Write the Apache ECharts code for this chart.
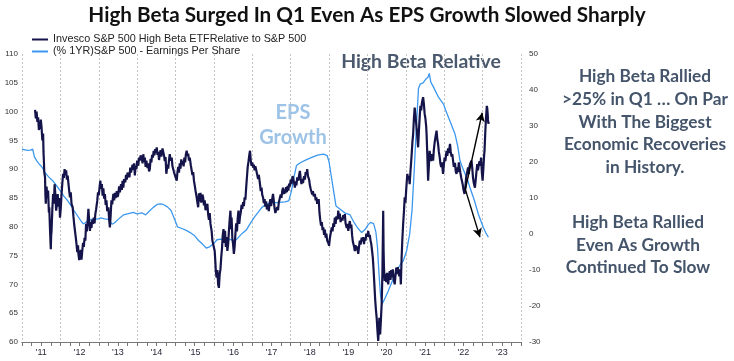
<!DOCTYPE html>
<html><head><meta charset="utf-8">
<script src="https://cdn.jsdelivr.net/npm/echarts@6/dist/echarts.min.js"></script>
<style>html,body{margin:0;padding:0;background:#fff}#c{width:734px;height:361px}</style>
</head><body><div id="c"></div>
<script>
const yearLabels = ["'11","'12","'13","'14","'15","'16","'17","'18","'19","'20","'21","'22","'23"];
const leftTicks = {min:60, max:110, interval:5};
const rightTicks = {min:-30, max:50, interval:10};
// [decimal year, value]
const highBetaRel = [
[2011.34,100.3],[2011.36,98.8],[2011.38,100.0],[2011.40,98.2],[2011.42,99.0],[2011.44,96.8],[2011.46,98.0],[2011.47,97.0],[2011.49,98.6],[2011.51,97.2],[2011.53,95.0],[2011.55,96.2],[2011.56,93.0],[2011.57,91.5],[2011.58,89.5],[2011.60,88.6],[2011.61,85.5],[2011.62,84.0],[2011.64,87.0],[2011.66,85.0],[2011.68,86.3],[2011.70,82.5],[2011.71,83.4],[2011.73,79.5],[2011.75,76.1],[2011.76,78.5],[2011.77,79.3],[2011.79,83.0],[2011.81,85.7],[2011.83,84.0],[2011.85,87.4],[2011.87,85.5],[2011.89,82.8],[2011.91,84.0],[2011.93,85.7],[2011.95,83.5],[2011.97,85.0],[2011.99,81.6],
[2012.01,83.2],[2012.03,85.7],[2012.05,87.5],[2012.07,89.2],[2012.09,88.5],[2012.11,90.0],[2012.13,89.0],[2012.15,89.8],[2012.17,88.2],[2012.19,88.9],[2012.21,87.5],[2012.23,86.2],[2012.25,85.1],[2012.27,86.0],[2012.29,84.0],[2012.32,83.4],[2012.34,81.8],[2012.36,80.4],[2012.38,79.3],[2012.40,78.2],[2012.42,77.0],[2012.44,75.6],[2012.46,76.8],[2012.47,75.3],[2012.49,74.2],[2012.51,74.4],[2012.53,76.0],[2012.55,74.3],[2012.57,75.8],[2012.59,77.2],[2012.61,76.5],[2012.63,78.1],[2012.65,77.6],[2012.67,80.5],[2012.69,79.2],[2012.71,81.0],[2012.73,83.1],[2012.75,81.0],[2012.77,79.3],[2012.79,80.8],[2012.81,79.8],[2012.83,81.2],[2012.85,80.5],[2012.87,81.6],[2012.89,80.6],[2012.91,82.2],[2012.93,83.0],[2012.96,84.5],[2012.98,86.0],
[2013.00,85.5],[2013.02,86.8],[2013.04,88.0],[2013.06,86.6],[2013.08,87.4],[2013.10,85.4],[2013.12,86.7],[2013.14,84.9],[2013.16,85.7],[2013.18,83.8],[2013.20,84.6],[2013.22,82.7],[2013.25,83.4],[2013.27,81.3],[2013.29,79.9],[2013.31,82.0],[2013.33,84.6],[2013.35,83.9],[2013.38,85.7],[2013.40,84.6],[2013.42,85.9],[2013.44,85.0],[2013.47,86.2],[2013.49,85.2],[2013.51,85.7],[2013.53,87.0],[2013.55,86.0],[2013.58,87.4],[2013.60,86.4],[2013.62,88.0],[2013.64,86.8],[2013.66,88.3],[2013.69,87.7],[2013.71,89.0],[2013.73,88.2],[2013.75,89.4],[2013.77,89.7],[2013.80,88.6],[2013.82,90.3],[2013.84,89.4],[2013.86,89.2],[2013.88,90.8],[2013.90,89.9],[2013.92,91.0],[2013.94,88.9],[2013.96,90.6],[2013.98,90.0],
[2014.00,91.5],[2014.03,90.6],[2014.05,92.0],[2014.07,91.5],[2014.09,92.4],[2014.12,92.0],[2014.14,91.0],[2014.16,92.6],[2014.18,91.3],[2014.20,92.0],[2014.22,90.4],[2014.24,91.5],[2014.27,90.2],[2014.29,91.0],[2014.31,89.6],[2014.33,90.0],[2014.35,91.8],[2014.37,91.2],[2014.39,92.5],[2014.41,92.0],[2014.43,93.2],[2014.45,92.4],[2014.47,93.5],[2014.49,92.8],[2014.51,93.8],[2014.53,92.5],[2014.55,93.0],[2014.57,91.6],[2014.59,92.6],[2014.61,93.3],[2014.63,92.2],[2014.66,93.6],[2014.68,93.8],[2014.70,92.4],[2014.72,91.4],[2014.74,92.1],[2014.76,89.2],[2014.77,88.9],[2014.79,90.8],[2014.81,90.1],[2014.83,91.6],[2014.85,92.6],[2014.87,91.5],[2014.90,92.0],[2014.92,90.5],[2014.94,90.8],[2014.96,89.5],[2014.98,89.8],
[2015.00,88.6],[2015.03,88.0],[2015.05,89.5],[2015.07,90.4],[2015.09,89.4],[2015.11,91.0],[2015.13,90.1],[2015.15,91.7],[2015.17,90.8],[2015.19,91.4],[2015.21,90.5],[2015.23,92.0],[2015.25,91.2],[2015.27,92.6],[2015.29,93.2],[2015.31,92.3],[2015.33,92.7],[2015.35,91.5],[2015.37,92.0],[2015.40,90.6],[2015.42,90.9],[2015.44,89.0],[2015.46,89.5],[2015.48,88.0],[2015.50,87.2],[2015.52,86.3],[2015.55,85.1],[2015.57,84.2],[2015.59,83.4],[2015.61,85.8],[2015.63,84.4],[2015.65,85.9],[2015.67,84.2],[2015.70,85.6],[2015.72,85.1],[2015.74,83.7],[2015.76,84.6],[2015.78,82.9],[2015.81,82.8],[2015.83,84.0],[2015.85,82.1],[2015.87,81.2],[2015.89,82.4],[2015.91,80.5],[2015.94,79.3],[2015.96,77.6],[2015.98,77.0],
[2016.00,76.8],[2016.02,75.8],[2016.04,73.6],[2016.05,72.2],[2016.07,71.2],[2016.09,72.5],[2016.11,70.0],[2016.13,69.4],[2016.15,71.8],[2016.17,72.6],[2016.19,74.7],[2016.21,76.2],[2016.23,78.6],[2016.25,79.6],[2016.27,77.2],[2016.29,79.3],[2016.31,76.5],[2016.33,78.2],[2016.35,75.8],[2016.37,77.0],[2016.39,79.2],[2016.41,81.2],[2016.43,82.8],[2016.45,79.6],[2016.46,81.6],[2016.48,78.0],[2016.50,76.9],[2016.52,75.3],[2016.54,76.6],[2016.56,78.8],[2016.58,80.6],[2016.60,79.2],[2016.62,81.5],[2016.64,82.8],[2016.66,80.5],[2016.68,81.8],[2016.70,82.5],[2016.72,83.8],[2016.74,83.1],[2016.76,84.3],[2016.78,83.6],[2016.80,85.1],[2016.82,84.7],[2016.84,86.8],[2016.86,88.6],[2016.88,90.4],[2016.90,91.3],[2016.92,92.4],[2016.94,93.2],[2016.96,91.5],[2016.98,90.6],
[2017.00,91.2],[2017.02,90.3],[2017.04,90.8],[2017.06,89.8],[2017.08,90.5],[2017.11,90.3],[2017.13,89.0],[2017.15,88.3],[2017.17,89.0],[2017.20,87.4],[2017.22,86.2],[2017.24,86.8],[2017.26,85.5],[2017.28,85.1],[2017.30,84.1],[2017.32,84.8],[2017.34,83.5],[2017.36,84.4],[2017.38,83.0],[2017.41,83.9],[2017.43,82.7],[2017.45,84.0],[2017.47,84.8],[2017.49,83.6],[2017.52,84.9],[2017.54,85.7],[2017.56,84.5],[2017.58,83.2],[2017.60,82.4],[2017.63,82.2],[2017.65,83.4],[2017.67,82.9],[2017.69,84.2],[2017.72,84.5],[2017.74,85.6],[2017.76,85.0],[2017.78,86.2],[2017.80,86.8],[2017.82,85.7],[2017.84,86.5],[2017.86,85.8],[2017.88,86.9],[2017.90,86.0],[2017.92,87.1],[2017.94,86.3],[2017.96,87.5],[2017.98,87.0],
[2018.00,88.2],[2018.02,87.4],[2018.05,88.8],[2018.07,88.6],[2018.09,87.6],[2018.11,86.8],[2018.13,87.9],[2018.15,87.2],[2018.17,88.6],[2018.20,88.0],[2018.22,89.0],[2018.24,89.7],[2018.26,88.4],[2018.28,87.4],[2018.30,88.3],[2018.32,87.6],[2018.35,88.8],[2018.37,88.2],[2018.39,89.5],[2018.41,89.1],[2018.43,90.0],[2018.45,88.8],[2018.48,88.2],[2018.50,87.2],[2018.52,86.6],[2018.54,86.8],[2018.56,85.6],[2018.58,86.2],[2018.60,85.3],[2018.63,85.7],[2018.65,84.6],[2018.67,85.1],[2018.69,84.0],[2018.71,83.9],[2018.73,84.8],[2018.75,82.4],[2018.77,81.2],[2018.79,80.2],[2018.81,80.8],[2018.83,79.4],[2018.85,79.9],[2018.87,78.6],[2018.89,79.5],[2018.91,78.1],[2018.93,78.8],[2018.95,77.6],[2018.98,77.2],
[2019.00,76.7],[2019.02,78.0],[2019.04,78.8],[2019.07,79.9],[2019.09,79.2],[2019.11,80.6],[2019.13,80.0],[2019.15,81.6],[2019.17,80.5],[2019.19,81.8],[2019.22,81.3],[2019.24,82.8],[2019.26,81.4],[2019.28,82.3],[2019.30,80.8],[2019.32,81.6],[2019.35,81.1],[2019.37,82.0],[2019.39,81.5],[2019.41,82.2],[2019.43,80.6],[2019.46,79.8],[2019.48,80.5],[2019.50,79.3],[2019.52,80.2],[2019.54,81.0],[2019.56,79.8],[2019.58,80.4],[2019.60,78.5],[2019.62,77.4],[2019.65,76.6],[2019.67,75.8],[2019.69,76.8],[2019.71,75.9],[2019.73,76.6],[2019.76,75.3],[2019.78,76.5],[2019.80,77.6],[2019.82,76.9],[2019.85,78.1],[2019.87,77.5],[2019.89,78.2],[2019.91,77.0],[2019.93,78.1],[2019.95,77.6],[2019.97,78.8],
[2020.00,78.3],[2020.02,79.3],[2020.04,78.2],[2020.06,78.6],[2020.08,77.6],[2020.10,77.0],[2020.12,75.8],[2020.14,74.6],[2020.16,72.5],[2020.18,70.0],[2020.20,67.5],[2020.22,65.6],[2020.24,64.2],[2020.26,62.0],[2020.28,60.2],[2020.30,62.5],[2020.31,64.2],[2020.32,62.0],[2020.33,61.3],[2020.35,63.8],[2020.37,66.6],[2020.39,72.0],[2020.41,82.8],[2020.42,76.0],[2020.43,72.9],[2020.45,70.6],[2020.47,71.8],[2020.49,70.4],[2020.51,72.0],[2020.54,70.0],[2020.56,71.4],[2020.58,72.3],[2020.60,70.8],[2020.62,72.5],[2020.64,71.2],[2020.66,72.6],[2020.68,71.0],[2020.71,70.0],[2020.73,71.5],[2020.75,72.9],[2020.77,71.8],[2020.79,73.0],[2020.81,72.2],[2020.83,71.4],[2020.85,72.6],[2020.87,70.0],[2020.89,74.7],[2020.91,78.0],[2020.93,80.5],[2020.95,82.6],[2020.97,85.1],[2020.99,84.2],
[2021.01,86.5],[2021.03,88.4],[2021.04,89.2],[2021.06,88.2],[2021.08,88.8],[2021.10,87.4],[2021.12,89.6],[2021.15,92.4],[2021.17,94.6],[2021.19,96.1],[2021.21,98.8],[2021.23,100.7],[2021.25,99.4],[2021.27,97.9],[2021.29,96.4],[2021.31,94.6],[2021.32,93.8],[2021.34,96.6],[2021.36,99.0],[2021.38,101.0],[2021.40,100.2],[2021.42,101.6],[2021.45,102.5],[2021.47,101.3],[2021.49,99.6],[2021.51,98.8],[2021.53,97.4],[2021.54,96.1],[2021.56,92.4],[2021.58,88.0],[2021.60,90.6],[2021.62,93.2],[2021.64,92.0],[2021.66,91.4],[2021.68,92.6],[2021.71,91.5],[2021.73,93.4],[2021.75,94.6],[2021.77,95.5],[2021.80,96.7],[2021.82,95.2],[2021.84,94.4],[2021.86,93.0],[2021.88,92.2],[2021.90,91.0],[2021.92,90.4],[2021.94,91.2],[2021.97,89.2],[2021.99,90.8],
[2022.01,92.0],[2022.03,91.4],[2022.06,93.2],[2022.08,92.3],[2022.10,93.6],[2022.12,92.8],[2022.15,94.4],[2022.17,93.0],[2022.19,92.2],[2022.21,92.6],[2022.23,91.5],[2022.25,90.4],[2022.28,91.1],[2022.30,89.6],[2022.32,89.2],[2022.34,90.3],[2022.36,89.5],[2022.38,91.2],[2022.40,90.9],[2022.42,89.4],[2022.44,88.6],[2022.46,88.0],[2022.48,87.4],[2022.50,86.5],[2022.53,85.7],[2022.55,86.8],[2022.57,88.5],[2022.59,89.2],[2022.62,90.3],[2022.64,89.2],[2022.66,90.6],[2022.68,91.0],[2022.71,91.5],[2022.73,90.2],[2022.75,88.5],[2022.77,87.6],[2022.80,86.8],[2022.82,88.2],[2022.84,89.6],[2022.86,90.9],[2022.88,89.8],[2022.90,90.8],[2022.92,91.4],[2022.94,90.6],[2022.96,92.0],[2022.98,89.5],
[2023.00,88.0],[2023.02,90.2],[2023.04,92.5],[2023.05,93.2],[2023.07,96.5],[2023.09,99.0],[2023.11,101.0],[2023.12,100.6],[2023.13,99.8],[2023.14,98.6],[2023.15,97.9],[2023.16,98.2]
];
const epsGrowth = [
[2011.00,23.6],[2011.08,23.4],[2011.15,23.2],[2011.22,23.3],[2011.28,23.6],[2011.32,21.5],[2011.38,20.4],[2011.45,19.4],[2011.52,18.6],[2011.60,17.0],[2011.70,15.8],[2011.80,14.8],[2011.90,13.4],[2012.00,12.0],[2012.10,10.4],[2012.18,9.4],[2012.25,8.3],[2012.35,6.6],[2012.45,5.0],[2012.55,3.4],[2012.60,2.8],[2012.68,3.4],[2012.78,3.9],[2012.88,4.3],[2012.96,4.1],[2013.05,4.5],[2013.15,4.2],[2013.25,4.1],[2013.30,3.8],[2013.35,2.7],[2013.42,3.2],[2013.52,4.2],[2013.64,5.3],[2013.75,5.6],[2013.90,6.0],[2014.00,5.6],[2014.12,5.9],[2014.22,5.3],[2014.30,6.2],[2014.42,7.4],[2014.52,8.2],[2014.60,8.4],[2014.68,8.2],[2014.78,7.6],[2014.88,6.6],[2014.96,4.5],[2015.05,2.0],[2015.15,1.6],[2015.28,1.0],[2015.38,0.4],[2015.50,-0.5],[2015.60,-1.8],[2015.70,-2.8],[2015.80,-3.9],[2015.90,-3.5],[2015.98,-2.8],[2016.08,-1.6],[2016.18,-1.4],[2016.30,-1.6],[2016.42,-1.5],[2016.55,-1.9],[2016.65,-0.8],[2016.75,0.3],[2016.85,1.2],[2016.94,2.8],[2017.05,4.6],[2017.15,6.0],[2017.25,7.4],[2017.37,8.3],[2017.50,8.8],[2017.62,8.7],[2017.72,8.8],[2017.85,8.9],[2017.95,9.2],[2018.02,12.0],[2018.10,16.5],[2018.15,19.0],[2018.25,19.8],[2018.40,20.6],[2018.55,21.3],[2018.70,21.9],[2018.85,22.2],[2018.95,21.8],[2019.00,20.0],[2019.08,14.5],[2019.18,7.8],[2019.30,6.8],[2019.42,5.8],[2019.54,5.4],[2019.65,3.2],[2019.75,1.6],[2019.85,0.4],[2019.95,1.4],[2020.02,2.6],[2020.08,3.2],[2020.16,2.9],[2020.22,0.5],[2020.26,-3.5],[2020.30,-11.0],[2020.34,-17.0],[2020.38,-19.5],[2020.46,-17.8],[2020.55,-15.6],[2020.65,-13.0],[2020.75,-10.5],[2020.86,-8.4],[2020.93,-7.5],[2021.02,-4.7],[2021.10,0.0],[2021.16,6.5],[2021.22,18.0],[2021.28,31.0],[2021.33,40.5],[2021.38,41.7],[2021.45,42.0],[2021.52,43.0],[2021.58,43.6],[2021.61,44.6],[2021.65,42.2],[2021.72,40.8],[2021.85,38.0],[2021.98,36.1],[2022.05,34.0],[2022.11,32.4],[2022.20,30.0],[2022.28,27.8],[2022.35,24.5],[2022.41,20.4],[2022.48,18.3],[2022.55,16.5],[2022.62,14.6],[2022.67,12.9],[2022.78,9.5],[2022.89,5.5],[2022.96,3.5],[2023.02,1.8],[2023.08,0.4],[2023.15,-0.9]
];
const arrowStart = [2022.55, 86.5];
const arrowUpEnd = [2022.99, 99.8];
const arrowDownEnd = [2022.93, 78.2];

const chart = echarts.init(document.getElementById('c'));
const lbl = {fontFamily:'Liberation Sans, Arial', fontSize:8, color:'#333'};
chart.setOption({
  animation:false,
  backgroundColor:'#fff',
  grid:{left:22, right:213, top:54, bottom:19, containLabel:false},
  legend:{
    orient:'vertical', left:27, top:29, itemGap:1, itemWidth:16, itemHeight:2,
    icon:'rect',
    textStyle:{fontFamily:'Liberation Sans, Arial', fontSize:10.8, color:'#222'},
    data:['Invesco S&P 500 High Beta ETFRelative to S&P 500','(% 1YR)S&P 500 - Earnings Per Share']
  },
  xAxis:[
    {type:'value', min:2011, max:2024, interval:1, position:'bottom',
     axisLine:{show:true, onZero:false, lineStyle:{color:'#777', width:1}},
     axisTick:{show:true, length:4, lineStyle:{color:'#777', width:1}},
     minorTick:{show:true, splitNumber:4, length:4, lineStyle:{color:'#777', width:1}},
     splitLine:{show:true, lineStyle:{color:'#c4c4c4', type:[2,2], width:1}},
     axisLabel:{show:false}},
    {type:'category', data:yearLabels, position:'bottom', boundaryGap:true,
     axisLine:{show:true, onZero:false, lineStyle:{color:'#777', width:1}},
     axisTick:{show:true, length:4, alignWithLabel:false, lineStyle:{color:'#777', width:1}},
     splitLine:{show:false},
     axisLabel:{show:true, interval:0, margin:6, fontFamily:'Liberation Sans, Arial', fontSize:9, color:'#2a2a3a'}}
  ],
  yAxis:[
    {type:'value', min:leftTicks.min, max:leftTicks.max, interval:leftTicks.interval, position:'left',
     axisLine:{show:false}, axisTick:{show:false}, splitLine:{show:false},
     axisLabel:Object.assign({margin:4}, lbl)},
    {type:'value', min:rightTicks.min, max:rightTicks.max, interval:rightTicks.interval, position:'right',
     axisLine:{show:false}, axisTick:{show:false}, splitLine:{show:false},
     axisLabel:Object.assign({margin:8}, lbl)}
  ],
  series:[
    {name:'(% 1YR)S&P 500 - Earnings Per Share', type:'line', xAxisIndex:0, yAxisIndex:1,
     data:epsGrowth, showSymbol:false, symbol:'none', color:'#3c98ee',
     lineStyle:{color:'#3c98ee', width:1.3}, z:2},
    {name:'Invesco S&P 500 High Beta ETFRelative to S&P 500', type:'line', xAxisIndex:0, yAxisIndex:0,
     data:highBetaRel, showSymbol:false, symbol:'none', color:'#14144a',
     lineStyle:{color:'#14144a', width:2.2}, z:3,
     markLine:{silent:true, symbol:['none','arrow'], symbolSize:[7,9], label:{show:false},
       lineStyle:{color:'#000', width:1.4, type:'solid'},
       data:[[{coord:arrowStart},{coord:arrowUpEnd}],[{coord:arrowStart},{coord:arrowDownEnd}]]}}
  ],
  graphic:[
    {type:'text', x:367, y:15, style:{text:'High Beta Surged In Q1 Even As EPS Growth Slowed Sharply', font:'bold 20.7px Lato', fill:'#111', textAlign:'center', textVerticalAlign:'middle'}},
    {type:'text', x:421, y:62, style:{text:'High Beta Relative', font:'bold 19.4px Lato', fill:'#4a596d', textAlign:'center', textVerticalAlign:'middle'}},
    {type:'text', x:293, y:113, style:{text:'EPS', font:'bold 20px Lato', fill:'#9dc3e6', textAlign:'center', textVerticalAlign:'middle'}},
    {type:'text', x:293, y:138, style:{text:'Growth', font:'bold 20px Lato', fill:'#9dc3e6', textAlign:'center', textVerticalAlign:'middle'}},
    {type:'text', x:645, y:122, style:{text:'High Beta Rallied\n>25% in Q1 \u2026 On Par\nWith The Biggest\nEconomic Recoveries\nin History.', font:'bold 17.3px Lato', lineHeight:22.7, fill:'#44546a', textAlign:'center', textVerticalAlign:'middle'}},
    {type:'text', x:638, y:245, style:{text:'High Beta Rallied\nEven As Growth\nContinued To Slow', font:'bold 17.3px Lato', lineHeight:22.7, fill:'#44546a', textAlign:'center', textVerticalAlign:'middle'}}
  ]
});
</script></body></html>
